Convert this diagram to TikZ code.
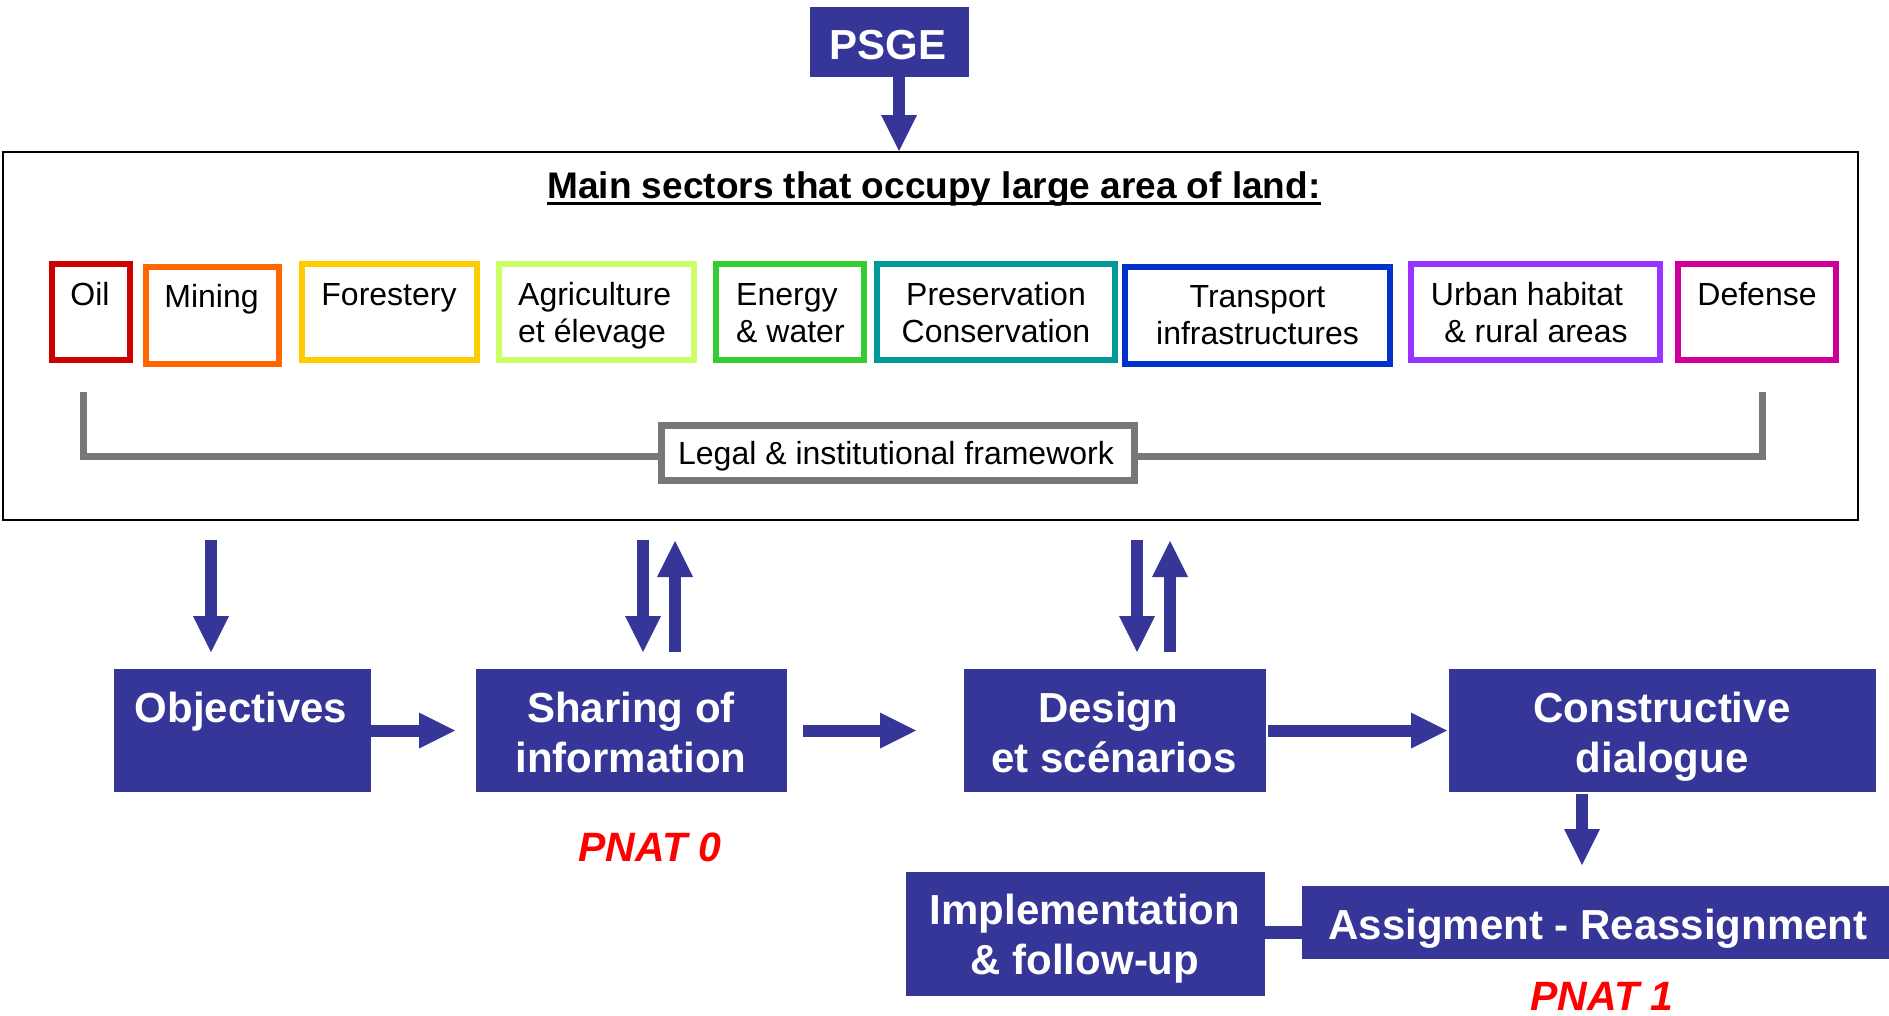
\documentclass[tikz,border=0pt]{standalone}
\usepackage{fontspec}
\setmainfont{Liberation Sans}
\usetikzlibrary{arrows.meta}
\definecolor{navy}{RGB}{54,54,153}
\definecolor{grayline}{RGB}{119,119,119}
\definecolor{cOil}{RGB}{204,0,0}
\definecolor{cMining}{RGB}{255,102,0}
\definecolor{cForest}{RGB}{255,204,0}
\definecolor{cAgri}{RGB}{204,255,102}
\definecolor{cEnergy}{RGB}{51,204,51}
\definecolor{cPres}{RGB}{0,153,153}
\definecolor{cTrans}{RGB}{0,51,204}
\definecolor{cUrban}{RGB}{153,51,255}
\definecolor{cDef}{RGB}{204,0,153}
\newcommand{\secfnt}{\fontsize{32}{37}\selectfont}
\newcommand{\boxfnt}{\fontsize{42}{50}\selectfont\bfseries}
\newcommand{\twol}[2]{\begin{tabular}[t]{@{}c@{}}#1\\#2\end{tabular}}
\newcommand{\twoleft}[2]{\begin{tabular}[t]{@{}l@{}}#1\\#2\end{tabular}}
\tikzset{
  sector/.style={draw=#1, line width=5.5pt, inner sep=0pt, outer sep=0pt, fill=white},
  stext/.style={font=\secfnt, inner sep=0pt, anchor=base, text=black},
  bluebox/.style={fill=navy, draw=none, inner sep=0pt, outer sep=0pt},
  btext/.style={font=\boxfnt, text=white, inner sep=0pt, anchor=base},
  arr/.style={draw=navy, line width=12pt, -{Triangle[length=36pt,width=36pt,line width=0pt]}},
  pnat/.style={font=\fontsize{41}{49}\selectfont\bfseries\itshape, text=red, inner sep=0pt, anchor=base},
}
\begin{document}
\begin{tikzpicture}[x=1pt,y=-1pt]
\useasboundingbox (0,0) rectangle (1889,1015);
% PSGE
\node[bluebox, minimum width=159pt, minimum height=70pt] (psge) at (889.5,42) {};
\node[btext] (psgeT) at (888,59) {PSGE};
% frame
\node[draw=black, line width=2pt, inner sep=0pt, minimum width=1855pt, minimum height=368pt] (frame) at (930.5,336) {};
\draw[arr] ([xshift=9.5pt]psge.south) -- ([xshift=9.5pt]psge.south |- frame.north);
% title
\node[inner sep=0pt, anchor=base, font=\fontsize{37}{44}\selectfont\bfseries] (title) at (934,198) {Main sectors that occupy large area of land:};
\draw[line width=3pt] ([yshift=-5.5pt]title.base west) -- ([yshift=-5.5pt]title.base east);
% sectors
\node[sector=cOil, minimum width=78pt, minimum height=96pt] (oil) at (91,312) {};
\node[sector=cMining, minimum width=133pt, minimum height=97pt] (mining) at (212.5,315.5) {};
\node[sector=cForest, minimum width=175pt, minimum height=96pt] (forest) at (389.5,312) {};
\node[sector=cAgri, minimum width=195pt, minimum height=96pt] (agri) at (596.5,312) {};
\node[sector=cEnergy, minimum width=148pt, minimum height=96pt] (energy) at (790,312) {};
\node[sector=cPres, minimum width=238pt, minimum height=96pt] (pres) at (996,312) {};
\node[sector=cTrans, minimum width=265pt, minimum height=97pt] (trans) at (1257.5,315.5) {};
\node[sector=cUrban, minimum width=249pt, minimum height=96pt] (urban) at (1535.5,312) {};
\node[sector=cDef, minimum width=158pt, minimum height=96pt] (def) at (1757,312) {};
\node[stext] (oilT) at (90,305) {Oil};
\node[stext] (miningT) at (211.5,307) {Mining};
\node[stext] (forestT) at (389,305) {Forestery};
\node[stext, anchor=base west] (agriT) at (518,305) {\twoleft{Agriculture}{et élevage}};
\node[stext, anchor=base west] (energyT) at (736,305) {\twoleft{Energy}{\& water}};
\node[stext] (presT) at (996,305) {\twol{Preservation}{Conservation}};
\node[stext] (transT) at (1257.5,307) {\twol{Transport}{infrastructures}};
\node[stext] (urbanT) at (1527,305) {\twol{Urban habitat}{\hspace*{18pt}\& rural areas}};
\node[stext] (defT) at (1757,305) {Defense};
% legal bracket
\coordinate (bl) at (83,392);
\coordinate (blc) at (83,456);
\coordinate (brc) at (1762,456);
\coordinate (br) at (1762,392);
\draw[grayline, line width=7pt] (bl) -- (blc) -- (brc) -- (br);
\node[draw=grayline, line width=7pt, fill=white, inner sep=0pt, minimum width=473pt, minimum height=55pt] (legal) at (898,453) {};
\node[stext] (legalT) at (896,464) {Legal \& institutional framework};
% process boxes
\node[bluebox, minimum width=257pt, minimum height=123pt] (obj) at (242.5,730.5) {};
\node[bluebox, minimum width=311pt, minimum height=123pt] (share) at (631.5,730.5) {};
\node[bluebox, minimum width=302pt, minimum height=123pt] (design) at (1115,730.5) {};
\node[bluebox, minimum width=427pt, minimum height=123pt] (constr) at (1662.5,730.5) {};
\node[bluebox, minimum width=359pt, minimum height=124pt] (impl) at (1085.5,934) {};
\node[bluebox, minimum width=587pt, minimum height=73pt] (assign) at (1595.5,922.5) {};
\node[btext] (objT) at (241,722.5) {Objectives};
\node[btext] (shareT) at (631,722.5) {\twol{Sharing of}{information}};
\node[btext] (designT) at (1114,722.5) {\twol{Design\hspace*{12pt}}{et scénarios}};
\node[btext] (constrT) at (1662,722.5) {\twol{Constructive}{dialogue}};
\node[btext] (implT) at (1085,924) {\twol{Implementation}{\& follow-up}};
\node[btext] (assignT) at (1598,939) {Assigment - Reassignment};
\node[pnat] (pnat0) at (650,861) {PNAT 0};
\node[pnat] (pnat1) at (1602,1010) {PNAT 1};
% vertical arrows from frame
\coordinate (d1) at (211,540);
\coordinate (d2) at (643,540);
\coordinate (u2) at (675,541);
\coordinate (d3) at (1137,540);
\coordinate (u3) at (1170,541);
\draw[arr] (d1) -- ([yshift=17pt]d1 |- obj.north);
\draw[arr] (d2) -- ([yshift=17pt]d2 |- share.north);
\draw[arr] ([yshift=17pt]u2 |- share.north) -- (u2);
\draw[arr] (d3) -- ([yshift=17pt]d3 |- design.north);
\draw[arr] ([yshift=17pt]u3 |- design.north) -- (u3);
% horizontal arrows
\draw[arr] (obj.east) -- ([xshift=-21pt]share.west);
\draw[arr] ([xshift=16pt]share.east) -- ([xshift=-48pt]design.west);
\draw[arr] ([xshift=2pt]design.east) -- ([xshift=-2pt]constr.west);
\coordinate (c1) at ([xshift=-80.5pt,yshift=-2pt]constr.south);
\draw[arr] (c1) -- ([yshift=21pt]c1 |- assign.north);
\draw[draw=navy, line width=13pt] ([yshift=-10pt]assign.west) -- ([yshift=-10pt]assign.west -| impl.east);
\end{tikzpicture}
\end{document}
